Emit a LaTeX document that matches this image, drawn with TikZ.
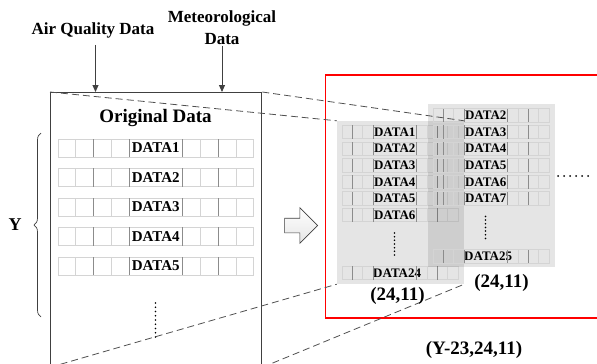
\documentclass[tikz,border=0pt]{standalone}
\usepackage{fontspec}
\setmainfont{Liberation Serif}
\usepackage{xcolor}
\usepackage{tikz}
\usetikzlibrary{positioning,arrows.meta,calc,shapes.arrows,decorations.pathreplacing}
\definecolor{FrameGray}{HTML}{404040}
\definecolor{CellLight}{HTML}{D4D4D4}
\definecolor{CellDark}{HTML}{8C8C8C}
\definecolor{WindowRed}{HTML}{FF0000}
\definecolor{DashGray}{HTML}{505050}

\tikzset{
  title/.style={font=\bfseries\fontsize{17pt}{22pt}\selectfont, align=center, inner sep=1pt},
  biglbl/.style={font=\bfseries\fontsize{19pt}{21pt}\selectfont, inner sep=0pt},
  olbl/.style={font=\bfseries\fontsize{15pt}{16pt}\selectfont, text width=53pt, align=center,
    minimum height=18pt, inner sep=0pt},
  slbl/.style={font=\bfseries\fontsize{13pt}{14pt}\selectfont, text width=43pt, align=center,
    minimum height=13pt, inner sep=0pt},
  cellline/.style={draw=CellLight, line width=0.5pt},
  celldark/.style={draw=CellDark, line width=0.7pt},
  feed/.style={-{Triangle[length=7pt,width=6pt]}, draw=FrameGray, line width=0.9pt},
  link/.style={draw=DashGray, dash pattern=on 7pt off 4pt, line width=0.8pt},
  panel/.style={fill=black, fill opacity=0.1, minimum width=127pt, minimum height=163pt, inner sep=0pt},
}

% row of cells round a label node: #1 node, #2 cells left, #3 cells right, #4 cell width
\newcommand{\cellstrip}[4]{%
  \draw[cellline] (#1.south west) rectangle (#1.north east);
  \foreach \k in {1,...,#2}
    \draw[cellline] ($(#1.south west)+({-\k*#4},0)$) rectangle ($(#1.north west)+({(1-\k)*#4},0)$);
  \foreach \k in {1,...,#3}
    \draw[cellline] ($(#1.south east)+({(\k-1)*#4},0)$) rectangle ($(#1.north east)+({\k*#4},0)$);
  \draw[celldark] (#1.south west) -- (#1.north west) (#1.south east) -- (#1.north east)
    ($(#1.south west)+({-2*#4},0)$) -- ($(#1.north west)+({-2*#4},0)$)
    ($(#1.south east)+({2*#4},0)$) -- ($(#1.north east)+({2*#4},0)$);
}

% vertical dots: x, top y, bottom y, steps
\newcommand{\dotcolumn}[4]{%
  \foreach \m in {0,...,#4}
    \fill ({#1},{#2+(#3-#2)*\m/#4}) circle (0.9pt);
}

% one sample window: name, first index, last label, shift x, shift y
\newcommand{\datawindow}[5]{%
  \begin{scope}[shift={(#4,#5)}]
    \node[panel] (#1) at (400.5,202.5) {};
    \foreach \rr in {0,...,5} {
      \pgfmathtruncatemacro{\idx}{#2+\rr}
      \node[slbl, anchor=west] (#1r\rr) at (373,132+16.6*\rr) {DATA\idx};
      \cellstrip{#1r\rr}{3}{4}{10.4}
    }
    \dotcolumn{394.5}{233}{255}{6}
    \node[slbl, anchor=west] (#1end) at (373,273) {#3};
    \cellstrip{#1end}{3}{4}{10.4}
  \end{scope}
}

\begin{document}
\begin{tikzpicture}[x=1pt, y=-1pt]
  \useasboundingbox (0,0) rectangle (597,364);

  % inputs
  \node[title, anchor=base] (aq) at (93,34.6) {Air Quality Data};
  \node[title, anchor=south] (met) at (222,45.6) {Meteorological\\Data};

  % original data
  \node[draw=FrameGray, line width=1.3pt, minimum width=211pt, minimum height=274pt,
    inner sep=0pt, anchor=north west] (orig) at (50,92) {};
  \node[biglbl] (origtitle) at (155.5,118) {Original Data};
  \foreach \rr in {1,...,5} {
    \node[olbl, anchor=west] (orow\rr) at (129,148+29.5*\rr-29.5) {DATA\rr};
    \cellstrip{orow\rr}{4}{4}{17.8}
  }
  \dotcolumn{155.5}{303}{337}{8}

  \draw[feed, shorten <=5.5pt] ([xshift=2.5pt]aq.south) -- ([xshift=2.5pt]aq.south |- orig.north);
  \draw[feed] (met.south) -- (met.south |- orig.north);

  % row count
  \node[font=\bfseries\fontsize{18pt}{20pt}\selectfont, inner sep=0pt] (ylbl) at (15,225) {Y};
  \draw[FrameGray, line width=0.7pt, decorate, decoration={brace, amplitude=7pt}]
    (41,317) -- (41,133);

  % transform arrow
  \node[single arrow, draw=FrameGray, line width=0.6pt, top color=white, bottom color=gray!20,
    minimum height=33pt, minimum width=35pt, inner sep=7pt, single arrow head extend=10.5pt]
    (flow) at (297.5,225.5) {};

  % sliding windows
  \draw[WindowRed, line width=1.4pt] (610,75) -| (325.7,318) -- (610,318);
  \datawindow{winA}{1}{DATA24}{0}{0}
  \datawindow{winB}{2}{DATA25}{91}{-16.6}
  \foreach \m in {0,...,5}
    \fill (558+6*\m,176) circle (1pt);

  \draw[link] (orig.north west) -- (winA.north west);
  \draw[link] (orig.north east) -- (winA.north east);
  \draw[link] (orig.south west) -- (winA.south west);
  \draw[link] (orig.south east) -- (winA.south east);

  \node[biglbl, below=3pt of winA, xshift=-3pt] (sizeA) {(24,11)};
  \node[biglbl, below=7pt of winB, xshift=10pt] (sizeB) {(24,11)};
  \node[biglbl] (sizeall) at (474,350) {(Y-23,24,11)};
\end{tikzpicture}
\end{document}
